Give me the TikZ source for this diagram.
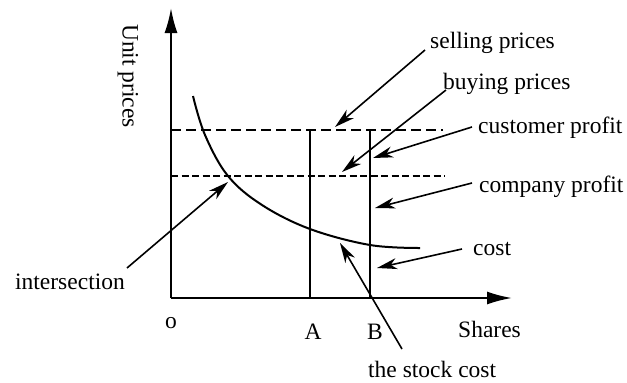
\documentclass[tikz,border=0pt]{standalone}
\usepackage{fontspec}
\setmainfont{Liberation Serif}
\usetikzlibrary{arrows.meta}
\tikzset{
  lbl/.style={inner sep=0pt, font=\fontsize{23.5}{28}\selectfont},
  axis/.style={line width=2pt, -{Latex[length=25pt,width=13pt]}},
  pointer/.style={line width=1.6pt, -{Stealth[length=20pt,width=11pt,inset=6pt]}},
  level/.style={line width=2pt}
}
\begin{document}
\begin{tikzpicture}[x=1pt,y=-1pt]
\useasboundingbox (0,0) rectangle (627,383);
\coordinate (o) at (171,298);
\coordinate (ytip) at (171,8);
\coordinate (xtip) at (512,298);
\draw[axis] (o) -- (ytip);
\draw[axis] (o) -- (xtip);
\draw[level, dash pattern=on 10pt off 5pt] (171,130) -- (443,130);
\draw[level, dash pattern=on 7pt off 3.5pt] (171,176) -- (445,176);
\draw[level] (310,298) -- (310,130);
\draw[level] (370,298) -- (370,130);
\draw[level] plot[smooth, tension=0.6] coordinates {(193,96) (205,135) (228,176) (262,205) (310,229) (370,245) (420,248)};
\node[lbl, rotate=-90] (unit) at (128,76) {Unit prices};
\node[lbl, anchor=base] (origin) at (171,328) {o};
\node[lbl, anchor=base] (a) at (313,339) {A};
\node[lbl, anchor=base] (b) at (375,339) {B};
\node[lbl, anchor=base west] (shares) at (458,337) {Shares};
\node[lbl, anchor=base west] (selling) at (430,48) {selling prices};
\node[lbl, anchor=base west] (buying) at (443,89) {buying prices};
\node[lbl, anchor=base west] (customer) at (478,133) {customer profit};
\node[lbl, anchor=base west] (company) at (479,192) {company profit};
\node[lbl, anchor=base west] (cost) at (473,255) {cost};
\node[lbl, anchor=base east] (inter) at (125,289) {intersection};
\node[lbl, anchor=base west] (stock) at (368,377) {the stock cost};
\coordinate (sellingpt) at (335,127);
\coordinate (buyingpt) at (342,172);
\coordinate (customerpt) at (373,158);
\coordinate (companypt) at (375,208);
\coordinate (costpt) at (377,268);
\coordinate (interpt) at (228,182);
\coordinate (stockpt) at (340,243);
\draw[pointer] (selling.base west) ++(-5,2) -- (sellingpt);
\draw[pointer] (buying.base west) ++(3,1) -- (buyingpt);
\draw[pointer] (customer.base west) ++(-6,-6) -- (customerpt);
\draw[pointer] (company.base west) ++(-7,-9) -- (companypt);
\draw[pointer] (cost.base west) ++(-11,-6) -- (costpt);
\draw[pointer] (inter.base east) ++(2,-21) -- (interpt);
\draw[pointer] (stock.base west) ++(34,-28) -- (stockpt);
\end{tikzpicture}
\end{document}
